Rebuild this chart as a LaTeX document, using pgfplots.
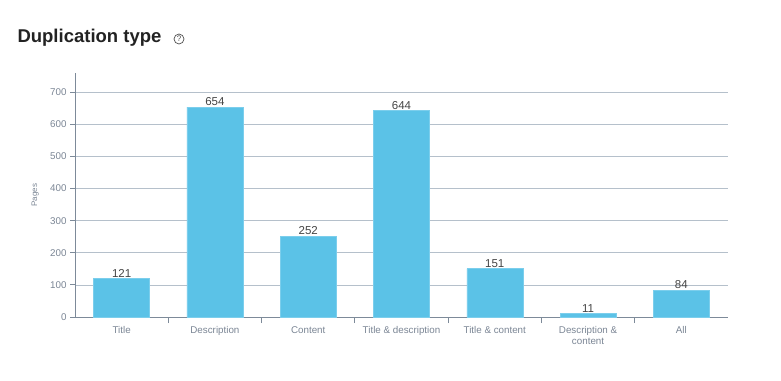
\documentclass[border=0pt]{standalone}
\usepackage{pgfplots}
\pgfplotsset{compat=1.18}
\usepackage{fontspec}
\setmainfont{Liberation Sans}
\definecolor{barc}{HTML}{5BC2E7}
\definecolor{axc}{HTML}{7D8A99}
\definecolor{gridc}{HTML}{B5C0CB}
\definecolor{labc}{HTML}{7A8594}
\definecolor{valc}{HTML}{444444}
\definecolor{titc}{HTML}{222222}
\begin{document}
\begin{tikzpicture}[x=1pt,y=1pt]
\path[use as bounding box] (0,0) rectangle (781,380);
\node[anchor=west, text=titc, font=\fontsize{18.5}{22}\selectfont\bfseries] at (14,342) {Duplication type};
\node[draw=titc!80, line width=0.7pt, circle, inner sep=0pt, minimum size=10pt, font=\fontsize{8}{8}\selectfont, text=titc!80] at (179,341) {?};
\begin{axis}[
  at={(75pt,63pt)}, anchor=south west,
  scale only axis, width=653pt, height=244pt,
  xmin=-0.5, xmax=6.5, ymin=0, ymax=760,
  axis lines=left, axis line style={-, draw=axc, line width=0.8pt},
  ytick={0,100,...,700},
  ymajorgrids, grid style={draw=gridc, line width=0.6pt},
  xtick={0,...,6},
  xticklabels={Title,Description,Content,Title \& description,Title \& content,{Description \&\\content},All},
  xticklabel style={align=center, font=\fontsize{9.8}{11}\selectfont, text=labc, yshift=-1pt},
  yticklabel style={font=\fontsize{9.8}{11}\selectfont, text=labc},
  major x tick style={draw=none},
  minor xtick={0.5,1.5,...,5.5},
  minor x tick style={draw=axc, line width=0.8pt},
  minor tick length=6pt,
  major tick length=5pt,
  ytick style={draw=axc, line width=0.8pt},
  tick align=outside,
  /pgf/number format/assume math mode=true,
  ylabel={Pages},
  every axis y label/.style={at={(axis description cs:-0.061,0.5)}, rotate=90, anchor=center, font=\fontsize{8}{9}\selectfont, text=labc},
  clip=false,
]
\addplot[ybar, bar width=56pt, fill=barc, draw=barc!80,
  nodes near coords, nodes near coords style={font=\fontsize{11.5}{13}\selectfont, text=valc, yshift=-2.5pt}]
  coordinates {(0,121) (1,654) (2,252) (3,644) (4,151) (5,11) (6,84)};
\end{axis}
\end{tikzpicture}
\end{document}
